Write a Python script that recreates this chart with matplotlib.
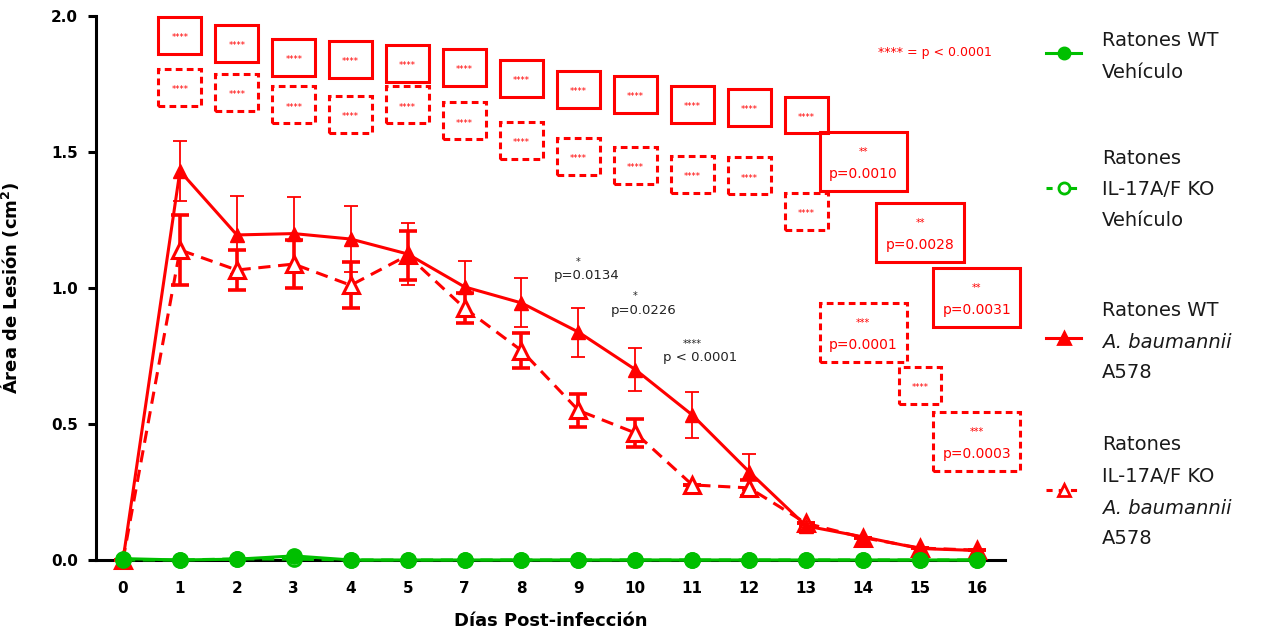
import numpy as np
import matplotlib
matplotlib.use("Agg")
import matplotlib.pyplot as plt
from matplotlib.patches import Rectangle
from matplotlib.lines import Line2D

plt.rcParams['font.family'] = ['DejaVu Sans']
plt.rcParams['mathtext.fontset'] = 'dejavusans'

# Datos
days = ['0', '1', '2', '3', '4', '5', '7', '8', '9', '10', '11', '12', '13', '14', '15', '16']

wt_veh = [0.005, 0.0, 0.003, 0.015, 0.0, 0.0, 0.0, 0.0, 0.0, 0.0, 0.0, 0.0, 0.0, 0.0, 0.0, 0.0]
ko_veh = [0.0, 0.0, 0.004, 0.003, 0.0, 0.0, 0.0, 0.0, 0.0, 0.0, 0.0, 0.0, 0.0, 0.0, 0.0, 0.0]

wt_ab = [0.0, 1.43, 1.195, 1.20, 1.18, 1.125, 1.004, 0.945, 0.838, 0.70, 0.533, 0.324, 0.125, 0.085, 0.042, 0.035]
wt_ab_err = [0.0, 0.11, 0.145, 0.135, 0.12, 0.115, 0.095, 0.09, 0.09, 0.08, 0.085, 0.066, 0.0, 0.0, 0.0, 0.0]

ko_ab = [0.0, 1.14, 1.066, 1.088, 1.01, 1.12, 0.926, 0.77, 0.55, 0.467, 0.276, 0.265, 0.135, 0.082, 0.044, 0.036]
ko_ab_err = [0.0, 0.13, 0.075, 0.088, 0.085, 0.09, 0.055, 0.065, 0.06, 0.05, 0.0, 0.03, 0.0, 0.0, 0.0, 0.0]

# Anotaciones (WT vs vehículo: cajas continuas; KO: cajas discontinuas), días 1..16
wt_box_level = [1.93, 1.90, 1.847, 1.84, 1.825, 1.81, 1.77, 1.73, 1.71, 1.676, 1.664, 1.636, 1.465, 1.204, 0.965]
wt_box_stars = ['****'] * 12 + ['**', '**', '**']
wt_box_p = [''] * 12 + ['p=0.0010', 'p=0.0028', 'p=0.0031']

ko_box_level = [1.737, 1.72, 1.673, 1.638, 1.673, 1.614, 1.544, 1.483, 1.452, 1.417, 1.412, 1.283, 0.836, 0.643, 0.434]
ko_box_stars = ['****'] * 12 + ['***', '****', '***']
ko_box_p = [''] * 12 + ['p=0.0001', '', 'p=0.0003']

# WT vs KO (A. baumannii)
cmp_x = [8, 9, 10]
cmp_level = [1.06, 0.934, 0.76]
cmp_stars = ['*', '*', '****']
cmp_p = ['p=0.0134', 'p=0.0226', 'p < 0.0001']

RED = '#FF0000'
GREEN = '#00BF00'

x = np.arange(len(days))

fig = plt.figure(figsize=(12.7, 6.37), dpi=100)
ax = fig.add_axes([0.0756, 0.1209, 0.7156, 0.854])

# KO A. baumannii
ax.errorbar(x, ko_ab, yerr=ko_ab_err, fmt='none', ecolor=RED, elinewidth=2.6,
            capsize=6.5, capthick=2.6, zorder=3, clip_on=False)
ax.plot(x, ko_ab, color=RED, lw=2.2, ls=(0, (4, 2.5)), marker='^', ms=11,
        mfc='white', mec=RED, mew=2.2, zorder=4, clip_on=False)
# WT A. baumannii
ax.errorbar(x, wt_ab, yerr=wt_ab_err, fmt='none', ecolor=RED, elinewidth=1.3,
            capsize=5, capthick=1.3, zorder=3, clip_on=False)
ax.plot(x, wt_ab, color=RED, lw=2.2, marker='^', ms=10, mfc=RED, mec=RED,
        zorder=5, clip_on=False)
# Vehículo
ax.plot(x, ko_veh, color=GREEN, lw=2.2, ls=(0, (4, 2.5)), marker='o', ms=10,
        mfc='white', mec=GREEN, mew=2, zorder=6, clip_on=False)
ax.plot(x, wt_veh, color=GREEN, lw=2.2, marker='o', ms=11, mfc=GREEN, mec=GREEN,
        zorder=7, clip_on=False)

ax.set_xlim(-0.474, 15.49)
ax.set_ylim(0, 2.0)
ax.set_xticks(x)
ax.set_xticklabels(days)
ax.set_yticks([0, 0.5, 1.0, 1.5, 2.0])
ax.set_yticklabels(['0.0', '0.5', '1.0', '1.5', '2.0'])
for s in ['top', 'right']:
    ax.spines[s].set_visible(False)
for s in ['left', 'bottom']:
    ax.spines[s].set_linewidth(2.2)
ax.tick_params(axis='y', length=6, width=2.2, pad=7, labelsize=11)
ax.tick_params(axis='x', length=3, width=1.5, pad=12, labelsize=11)
for lab in ax.get_xticklabels() + ax.get_yticklabels():
    lab.set_fontweight('bold')

ax.set_ylabel(r'Área de Lesión (cm$^\mathbf{2}$)', fontsize=13, fontweight='bold')
ax.yaxis.set_label_coords(-0.083, 0.5)
ax.set_xlabel('Días Post-infección', fontsize=13, fontweight='bold')
ax.xaxis.set_label_coords(0.5, -0.095)

# Cajas de significancia
small_w, small_h = 0.755, 0.136
big_w, big_h = 1.53, 0.217


def draw_box(xc, yc, stars, ptxt, dashed):
    if ptxt:
        w, h = big_w, big_h
    else:
        w, h = small_w, small_h
    ls = (0, (2.2, 1.4)) if dashed else '-'
    ax.add_patch(Rectangle((xc - w / 2, yc - h / 2), w, h, fill=False, ec=RED,
                           lw=2.2, ls=ls, clip_on=False, zorder=2))
    if ptxt:
        ax.annotate(stars, (xc, yc), xytext=(0, 7), textcoords='offset points',
                    ha='center', va='center', color=RED, fontsize=7)
        ax.annotate(ptxt, (xc, yc), xytext=(0, -9), textcoords='offset points',
                    ha='center', va='center', color=RED, fontsize=10)
    else:
        ax.annotate(stars, (xc, yc), xytext=(0, -1.5), textcoords='offset points',
                    ha='center', va='center', color=RED, fontsize=6)


for i in range(len(wt_box_level)):
    draw_box(x[i + 1], wt_box_level[i], wt_box_stars[i], wt_box_p[i], False)
    draw_box(x[i + 1], ko_box_level[i], ko_box_stars[i], ko_box_p[i], True)

for xi, lv, st, pt in zip(cmp_x, cmp_level, cmp_stars, cmp_p):
    ax.annotate(st, (xi, lv), xytext=(0, 7), textcoords='offset points',
                ha='center', va='center', color='#222222', fontsize=7)
    ax.annotate(pt, (xi, lv), xytext=(6, -3), textcoords='offset points',
                ha='center', va='center', color='#222222', fontsize=9.5)

ax.text(14.26, 1.864, '**** = p < 0.0001', ha='center', va='center', color=RED, fontsize=9)

# Leyenda manual
W, H = 1270.0, 637.0
legend_items = [
    (GREEN, '-', 'o', GREEN, 53, [('Ratones WT', 41, False), ('Vehículo', 72, False)]),
    (GREEN, (0, (2, 2)), 'o', 'white', 188, [('Ratones', 159, False), ('IL-17A/F KO', 189, False),
                                              ('Vehículo', 220, False)]),
    (RED, '-', '^', RED, 338, [('Ratones WT', 310, False), ('A. baumannii', 342, True),
                               ('A578', 372, False)]),
    (RED, (0, (2, 2)), '^', 'white', 490, [('Ratones', 445, False), ('IL-17A/F KO', 476, False),
                                           ('A. baumannii', 508, True), ('A578', 538, False)]),
]
for col, ls, mk, mfc, hy, lines in legend_items:
    yy = 1 - hy / H
    fig.add_artist(Line2D([1046 / W, 1063.5 / W, 1081 / W], [yy, yy, yy], transform=fig.transFigure,
                          color=col, lw=2.2, ls=ls, marker=mk, markevery=[1], ms=8,
                          mfc=mfc, mec=col, mew=2))
    for txt, ty, ital in lines:
        fig.text(1102 / W, 1 - ty / H, txt, ha='left', va='center', fontsize=14,
                 color='#1a1a1a', style='italic' if ital else 'normal')

plt.savefig('out.png', dpi=100)
